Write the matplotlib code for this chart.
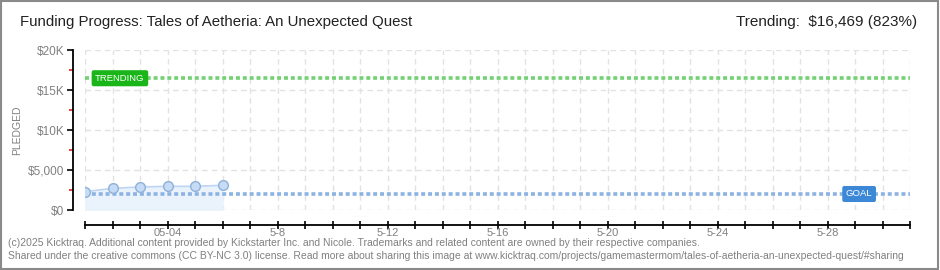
import matplotlib
matplotlib.use('Agg')
import matplotlib.pyplot as plt
import matplotlib.patches as mpatches
from matplotlib.ticker import FixedLocator, FuncFormatter
import numpy as np

plt.rcParams['font.family'] = ['Liberation Sans', 'DejaVu Sans']

# data
days = [1, 2, 3, 4, 5, 6]                       # day of May
pledged = [2290, 2710, 2880, 2960, 2960, 3090]
goal = 2000
trending = 16469
x_start, x_end = 1, 31
label_days = [4, 8, 12, 16, 20, 24, 28]
label_texts = ['05-04', '5-8', '5-12', '5-16', '5-20', '5-24', '5-28']
y_major = [0, 5000, 10000, 15000, 20000]
y_major_labels = ['$0', '$5,000', '$10K', '$15K', '$20K']
y_minor = [2500, 7500, 12500, 17500]

title = 'Funding Progress: Tales of Aetheria: An Unexpected Quest'
footer1 = ('(c)2025 Kicktraq. Additional content provided by Kickstarter Inc. and Nicole. '
           'Trademarks and related content are owned by their respective companies.')
footer2 = ('Shared under the creative commons (CC BY-NC 3.0) license. Read more about sharing this image at '
           'www.kicktraq.com/projects/gamemastermom/tales-of-aetheria-an-unexpected-quest/#sharing')

grey = '#808080'
fig = plt.figure(figsize=(9.4, 2.7), dpi=100)
ax = fig.add_axes([85 / 940, 1 - 210 / 270, 825 / 940, 160 / 270])

# grid
for d in range(x_start, x_end + 1):
    ax.axvline(d, color='#e2e2e2', lw=1, ls=(0, (4, 3)), zorder=0)
for v in y_major:
    ax.axhline(v, color='#e2e2e2', lw=1, ls=(0, (4, 3)), zorder=0)

# pledged area + line
ax.fill_between(days, 0, pledged, color='#eaf2fc', zorder=1)
ax.plot(days, pledged, color='#bcd6f3', lw=1.2, zorder=2)
ax.plot(days, pledged, 'o', ms=7, mfc='#c6dcf6', mec='#8fb0d8', mew=1, zorder=5)

# goal and trending lines
ax.axhline(goal, color='#8db3e2', lw=2.6, ls=(0, (1.1, 0.8)), zorder=3)
ax.axhline(trending, color='#74d074', lw=2.6, ls=(0, (1.1, 0.8)), zorder=3)

ax.text(2.27, trending, 'TRENDING', ha='center', va='center', fontsize=6.8,
        color='white', zorder=6,
        bbox=dict(boxstyle='round,pad=0.3,rounding_size=0.15', fc='#19b519', ec='#19b519'))
ax.text(29.15, goal, 'GOAL', ha='center', va='center', fontsize=6.8,
        color='white', zorder=6,
        bbox=dict(boxstyle='round,pad=0.3,rounding_size=0.15', fc='#3c88d6', ec='#3c88d6'))

ax.set_xlim(x_start, x_end)
ax.set_ylim(0, 20000)

# axes styling
for s in ['top', 'right']:
    ax.spines[s].set_visible(False)
ax.spines['left'].set_position(('outward', 9))
ax.spines['bottom'].set_position(('outward', 11))
ax.spines['left'].set_linewidth(1.3)
ax.spines['bottom'].set_linewidth(1.3)

ax.xaxis.set_major_locator(FixedLocator(list(range(x_start, x_end + 1))))
ax.xaxis.set_major_formatter(FuncFormatter(
    lambda v, p: label_texts[label_days.index(int(round(v)))] if int(round(v)) in label_days else ''))
ax.tick_params(axis='x', direction='inout', length=6, width=1.2, colors='black',
               labelcolor=grey, labelsize=8, pad=-1)

ax.set_yticks(y_major)
ax.set_yticklabels(y_major_labels)
ax.set_yticks(y_minor, minor=True)
ax.tick_params(axis='y', which='major', direction='out', length=4, width=1.2,
               labelcolor=grey, labelsize=8.5, pad=2)
ax.tick_params(axis='y', which='minor', direction='out', length=3, width=1.2, color='#e02020')
ax.set_ylabel('PLEDGED', fontsize=7.5, color=grey)
ax.yaxis.set_label_coords((22 - 85) / 825, 0.5)

# header
fig.text(20 / 940, 1 - 22 / 270, title, fontsize=10.8, color='#222222', va='center', ha='left')
fig.text(917 / 940, 1 - 22 / 270, 'Trending:  $16,469 (823%)', fontsize=11,
         color='#222222', va='center', ha='right')

# footer
fig.text(8 / 940, 1 - 243 / 270, footer1, fontsize=7.5, color=grey, va='center', ha='left')
fig.text(8 / 940, 1 - 256 / 270, footer2, fontsize=7.5, color=grey, va='center', ha='left')

fig.patches.append(mpatches.Rectangle((0.001, 0.002), 0.997, 0.995, transform=fig.transFigure,
                                      fill=False, ec='#8a8a8a', lw=1.5))

fig.savefig('out.png', dpi=100)
